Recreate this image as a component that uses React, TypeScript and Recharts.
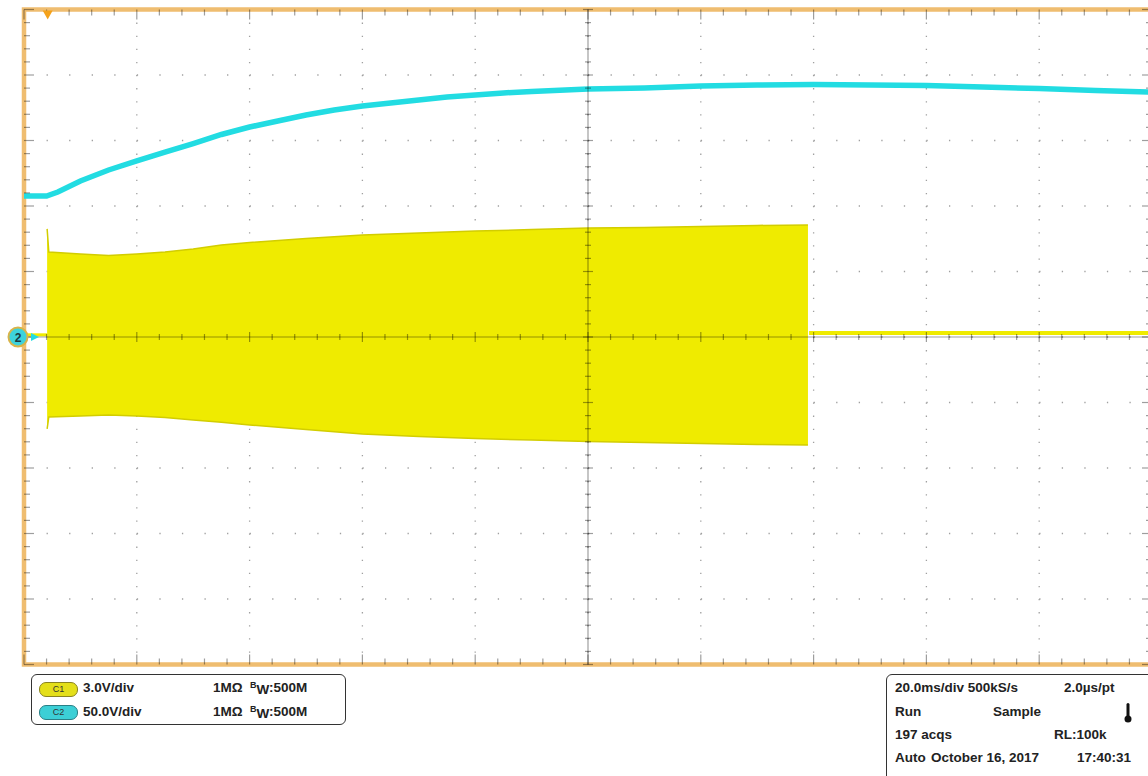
import React from 'react';
import {
  ComposedChart,
  Area,
  Line,
  Scatter,
  XAxis,
  YAxis,
  CartesianGrid,
  ReferenceLine,
  ReferenceArea,
} from 'recharts';

// time base: 20 ms/div, 10 divisions
const timeDivs = [0, 20, 40, 60, 80, 100, 120, 140, 160, 180, 200];
// C1 scale: 3 V/div, 10 divisions
const c1Divs = [-15, -12, -9, -6, -3, 0, 3, 6, 9, 12, 15];

// C1 (yellow) burst envelope, volts
const burstTime = [4.1, 4.4, 10, 15, 20, 25, 30, 35, 40, 50, 60, 70, 80, 90, 100, 110, 120, 130, 139];
const burstHigh = [4.95, 3.89, 3.8, 3.73, 3.8, 3.89, 4.03, 4.21, 4.33, 4.51, 4.67, 4.76, 4.85, 4.92, 4.99, 5.02, 5.06, 5.11, 5.13];
const burstLow = [-4.21, -3.66, -3.62, -3.57, -3.62, -3.69, -3.8, -3.91, -4.03, -4.24, -4.44, -4.56, -4.65, -4.72, -4.79, -4.83, -4.88, -4.92, -4.95];

// C1 idle level before / after the burst
const idleTime = [139.2, 200];
const idleLevel = [0.18, 0.18];
const preTime = [0, 4.1];
const preLevel = [0.1, 0.1];

// C2 (cyan) bus voltage, 50 V/div
const c2Time = [0, 4, 6, 10, 15, 20, 25, 30, 35, 40, 45, 50, 55, 60, 65, 70, 75, 80, 85, 90, 100, 110, 120, 130, 140, 150, 160, 170, 180, 190, 200];
const c2Volts = [107.6, 107.6, 110.7, 119.1, 127.5, 134.4, 141.2, 147.7, 154.6, 160.3, 164.9, 169.5, 173.3, 176.3, 178.6, 180.9, 183.2, 184.7, 186.3, 187.4, 189.3, 190.1, 191.6, 192.4, 192.7, 192.4, 192.0, 190.8, 189.7, 188.2, 187.0];

const triggerTime = 4.2;

const YELLOW = '#efeb00';
const CYAN = '#22dce2';
const FRAME = '#efbd70';
const TICK = 'rgba(0,0,0,0.38)';

const burstData = burstTime.map((t, i) => ({ t, c1: [burstLow[i], burstHigh[i]] }));
const idleData = idleTime.map((t, i) => ({ t, v: idleLevel[i] }));
const preData = preTime.map((t, i) => ({ t, v: preLevel[i] }));
const c2Data = c2Time.map((t, i) => ({ t, c2: c2Volts[i] }));

const minorT = Array.from({ length: 51 }, (_, i) => i * 4);
const minorV = Array.from({ length: 51 }, (_, i) => -15 + i * 0.6);
const isMajorT = (t: number) => Math.abs(t % 20) < 0.01;
const isMajorV = (v: number) => Math.abs(Math.round(v / 3) * 3 - v) < 0.01;

const centerHTicks = minorT.map((t) => ({ t, v: 0, major: isMajorT(t) }));
const topTicks = minorT.map((t) => ({ t, v: 15, major: isMajorT(t) }));
const bottomTicks = minorT.map((t) => ({ t, v: -15, major: isMajorT(t) }));
const centerVTicks = minorV.map((v) => ({ t: 100, v, major: isMajorV(v) }));
const leftTicks = minorV.map((v) => ({ t: 0, v, major: isMajorV(v) }));
const rightTicks = minorV.map((v) => ({ t: 200, v, major: isMajorV(v) }));

const crossV = (p: any) => {
  const h = p.payload.major ? 5 : 3;
  return <line x1={p.cx} x2={p.cx} y1={p.cy - h} y2={p.cy + h} stroke={TICK} strokeWidth={1.2} />;
};
const crossH = (p: any) => {
  const h = p.payload.major ? 5 : 3;
  return <line x1={p.cx - h} x2={p.cx + h} y1={p.cy} y2={p.cy} stroke={TICK} strokeWidth={1.2} />;
};
const edgeTick = (dx: number, dy: number) => (p: any) => {
  const len = p.payload.major ? 10 : 6;
  return (
    <line x1={p.cx} y1={p.cy} x2={p.cx + dx * len} y2={p.cy + dy * len} stroke={TICK} strokeWidth={1.2} />
  );
};

const triggerShape = (p: any) => (
  <polygon
    points={`${p.cx - 5},${p.cy + 1} ${p.cx + 5},${p.cy + 1} ${p.cx},${p.cy + 10}`}
    fill="#f5a21a"
  />
);

const groundShape = (p: any) => (
  <g>
    <polygon points={`${p.cx + 7},${p.cy - 4} ${p.cx + 15},${p.cy} ${p.cx + 7},${p.cy + 4}`} fill={CYAN} />
    <circle cx={p.cx - 6} cy={p.cy} r={9.5} fill="#3dd3dc" stroke="#d8b44a" strokeWidth={2} />
    <text
      x={p.cx - 6}
      y={p.cy + 4.5}
      textAnchor="middle"
      fontSize={12}
      fontWeight="bold"
      fontFamily="Liberation Sans, Arial, sans-serif"
      fill="#1a3a40"
    >
      2
    </text>
  </g>
);

const font = '"Liberation Sans", Arial, sans-serif';

const txt = (left: number, top: number, s: React.ReactNode, size = 13.5) => (
  <span style={{ position: 'absolute', left, top, whiteSpace: 'nowrap', fontSize: size }}>{s}</span>
);

const Pill = ({ left, top, label, color, border }: { left: number; top: number; label: string; color: string; border: string }) => (
  <span
    style={{
      position: 'absolute',
      left,
      top,
      width: 37,
      height: 13,
      borderRadius: 7,
      background: color,
      border: `1px solid ${border}`,
      fontSize: 9,
      lineHeight: '13px',
      textAlign: 'center',
      color: '#333',
      fontWeight: 'normal',
    }}
  >
    {label}
  </span>
);

const bw = (
  <>
    1MΩ&nbsp;&nbsp;
    <span style={{ fontSize: 9, position: 'relative', top: -4 }}>B</span>
    <span style={{ position: 'relative', top: 2 }}>W</span>:500M
  </>
);

export default function App() {
  return (
    <div
      style={{
        position: 'absolute',
        left: 0,
        top: 0,
        width: 1148,
        height: 776,
        overflow: 'hidden',
        background: '#fff',
        fontFamily: font,
        fontWeight: 'bold',
        fontSize: 13.5,
        color: '#222',
      }}
    >
      <ComposedChart width={1160} height={680} margin={{ top: 9.5, right: 8, bottom: 15.5, left: 24 }}>
        <XAxis dataKey="t" type="number" domain={[0, 200]} ticks={timeDivs} hide />
        <YAxis yAxisId="c1" type="number" domain={[-15, 15]} ticks={c1Divs} hide />
        <YAxis yAxisId="c2" type="number" domain={[-250, 250]} hide />

        <Area
          yAxisId="c1"
          data={burstData}
          dataKey="c1"
          type="linear"
          fill={YELLOW}
          fillOpacity={1}
          stroke="#d2cd00"
          strokeWidth={1.5}
          isAnimationActive={false}
        />
        <Line yAxisId="c1" data={idleData} dataKey="v" type="linear" stroke={YELLOW} strokeWidth={4} dot={false} isAnimationActive={false} />
        <Line yAxisId="c1" data={preData} dataKey="v" type="linear" stroke={YELLOW} strokeWidth={3} dot={false} isAnimationActive={false} />
        <Line yAxisId="c2" data={c2Data} dataKey="c2" type="linear" stroke={CYAN} strokeWidth={5.5} dot={false} isAnimationActive={false} />

        <CartesianGrid yAxisId="c1" horizontal vertical={false} stroke="#a0a0a0" strokeWidth={1.3} strokeDasharray="1.3 21.26" />
        <CartesianGrid yAxisId="c1" horizontal={false} vertical stroke="#a0a0a0" strokeWidth={1.3} strokeDasharray="1.3 11.8" />

        <ReferenceLine yAxisId="c1" y={0} stroke={TICK} strokeWidth={1.2} />
        <ReferenceLine yAxisId="c1" x={100} stroke={TICK} strokeWidth={1.2} />

        <Scatter yAxisId="c1" data={centerHTicks} dataKey="v" shape={crossV} isAnimationActive={false} />
        <Scatter yAxisId="c1" data={centerVTicks} dataKey="v" shape={crossH} isAnimationActive={false} />
        <Scatter yAxisId="c1" data={topTicks} dataKey="v" shape={edgeTick(0, 1)} isAnimationActive={false} />
        <Scatter yAxisId="c1" data={bottomTicks} dataKey="v" shape={edgeTick(0, -1)} isAnimationActive={false} />
        <Scatter yAxisId="c1" data={leftTicks} dataKey="v" shape={edgeTick(1, 0)} isAnimationActive={false} />
        <Scatter yAxisId="c1" data={rightTicks} dataKey="v" shape={edgeTick(-1, 0)} isAnimationActive={false} />

        <ReferenceArea
          yAxisId="c1"
          x1={0}
          x2={200}
          y1={-15}
          y2={15}
          fill="none"
          stroke={FRAME}
          strokeWidth={4.5}
          ifOverflow="visible"
        />

        <Scatter yAxisId="c1" data={[{ t: triggerTime, v: 15 }]} dataKey="v" shape={triggerShape} isAnimationActive={false} />
        <Scatter yAxisId="c1" data={[{ t: 0, v: 0 }]} dataKey="v" shape={groundShape} isAnimationActive={false} />
      </ComposedChart>

      {/* channel readout */}
      <div
        style={{
          position: 'absolute',
          left: 31,
          top: 674,
          width: 313,
          height: 49,
          border: '1.5px solid #333',
          borderRadius: 6,
        }}
      />
      <Pill left={39} top={682} label="C1" color="#e4df1a" border="#8a8420" />
      <Pill left={39} top={705} label="C2" color="#3ccfd6" border="#2a7f86" />
      {txt(83, 680, '3.0V/div')}
      {txt(83, 704, '50.0V/div')}
      {txt(213, 680, bw)}
      {txt(213, 704, bw)}

      {/* acquisition readout */}
      <div
        style={{
          position: 'absolute',
          left: 886,
          top: 674,
          width: 280,
          height: 120,
          border: '1.5px solid #333',
          borderRadius: 6,
        }}
      />
      {txt(895, 680, '20.0ms/div 500kS/s')}
      {txt(1064, 680, '2.0µs/pt')}
      {txt(895, 704, 'Run')}
      {txt(993, 704, 'Sample')}
      {txt(895, 727, '197 acqs')}
      {txt(1054, 727, 'RL:100k')}
      {txt(895, 750, 'Auto')}
      {txt(931, 750, 'October 16, 2017')}
      {txt(1077, 750, '17:40:31')}
      <svg style={{ position: 'absolute', left: 1122, top: 702 }} width={12} height={22}>
        <rect x={4.5} y={1} width={3} height={14} rx={1.5} fill="#111" />
        <circle cx={6} cy={17} r={3.5} fill="#111" />
      </svg>
    </div>
  );
}
